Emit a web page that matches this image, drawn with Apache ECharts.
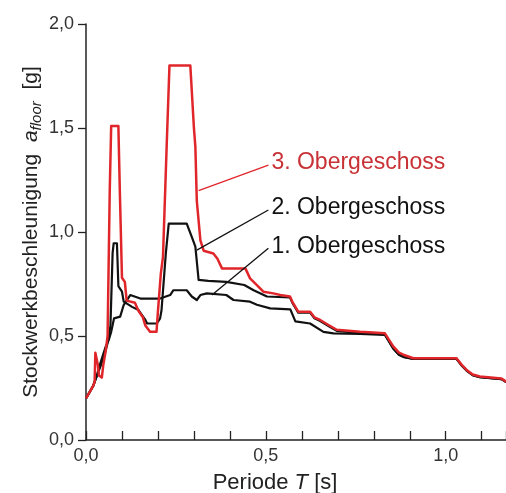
<!DOCTYPE html>
<html lang="de">
<head>
  <meta charset="utf-8">
</head>
<body style="height: 100%; margin: 0">
  <div id="container" style="width: 506px; height: 493px"></div>

  <script type="text/javascript" src="https://fastly.jsdelivr.net/npm/echarts@6.0.0/dist/echarts.min.js"></script>

  <script type="text/javascript">
    // Periode T [s], Stockwerkbeschleunigung [g]
    var og3 = [
      [0.000, 0.20], [0.010, 0.23], [0.020, 0.26], [0.024, 0.28], [0.026, 0.42], [0.030, 0.42],
      [0.033, 0.36], [0.036, 0.31], [0.044, 0.30], [0.048, 0.36], [0.055, 0.43], [0.060, 0.50],
      [0.066, 1.20], [0.070, 1.51], [0.090, 1.51], [0.094, 1.20], [0.100, 0.78], [0.108, 0.76],
      [0.113, 0.67], [0.136, 0.66], [0.146, 0.62], [0.158, 0.59], [0.165, 0.55], [0.178, 0.52],
      [0.196, 0.52], [0.200, 0.62], [0.208, 0.80], [0.214, 0.88], [0.224, 1.40], [0.232, 1.80],
      [0.290, 1.80], [0.300, 1.50], [0.304, 1.41], [0.308, 1.15], [0.318, 0.96], [0.327, 0.91],
      [0.354, 0.897], [0.365, 0.873], [0.378, 0.825], [0.443, 0.825], [0.456, 0.777], [0.475, 0.745],
      [0.493, 0.713], [0.521, 0.705], [0.540, 0.697], [0.567, 0.69], [0.575, 0.66], [0.590, 0.617],
      [0.623, 0.617], [0.635, 0.59], [0.651, 0.577], [0.674, 0.553], [0.697, 0.53], [0.762, 0.52],
      [0.831, 0.513], [0.854, 0.45], [0.870, 0.42], [0.882, 0.41], [0.910, 0.393], [1.030, 0.393],
      [1.045, 0.36], [1.058, 0.337], [1.075, 0.315], [1.095, 0.305], [1.155, 0.296], [1.168, 0.28]
    ];
    var og2 = [
      [0.000, 0.20], [0.020, 0.26], [0.035, 0.33], [0.050, 0.40], [0.062, 0.48], [0.068, 0.55],
      [0.074, 0.90], [0.077, 0.946], [0.086, 0.946], [0.090, 0.74], [0.100, 0.713], [0.105, 0.665],
      [0.128, 0.64], [0.146, 0.625], [0.165, 0.577], [0.170, 0.56], [0.197, 0.56], [0.206, 0.585],
      [0.210, 0.625], [0.222, 0.90], [0.230, 1.04], [0.280, 1.04], [0.294, 0.977], [0.304, 0.93],
      [0.313, 0.77], [0.340, 0.765], [0.390, 0.76], [0.440, 0.745], [0.466, 0.72], [0.503, 0.69],
      [0.567, 0.685], [0.575, 0.655], [0.590, 0.612], [0.623, 0.612], [0.635, 0.585], [0.651, 0.572],
      [0.674, 0.548], [0.697, 0.525], [0.762, 0.515], [0.831, 0.508], [0.854, 0.44], [0.870, 0.41],
      [0.882, 0.40], [0.910, 0.39], [1.030, 0.39], [1.045, 0.357], [1.058, 0.334], [1.075, 0.312],
      [1.095, 0.302], [1.155, 0.293], [1.168, 0.278]
    ];
    var og1 = [
      [0.000, 0.20], [0.020, 0.26], [0.030, 0.31], [0.040, 0.37], [0.055, 0.45], [0.063, 0.48],
      [0.070, 0.52], [0.078, 0.585], [0.095, 0.593], [0.105, 0.65], [0.123, 0.697], [0.128, 0.69],
      [0.151, 0.68], [0.206, 0.68], [0.234, 0.697], [0.243, 0.72], [0.280, 0.72], [0.294, 0.69],
      [0.308, 0.673], [0.318, 0.697], [0.336, 0.705], [0.390, 0.697], [0.410, 0.673], [0.456, 0.665],
      [0.475, 0.65], [0.512, 0.633], [0.568, 0.628], [0.582, 0.57], [0.623, 0.56], [0.660, 0.52],
      [0.688, 0.513], [0.762, 0.51], [0.831, 0.505], [0.854, 0.44], [0.870, 0.41], [0.882, 0.40],
      [0.910, 0.39], [1.030, 0.39], [1.045, 0.357], [1.058, 0.334], [1.075, 0.312], [1.095, 0.302],
      [1.155, 0.293], [1.168, 0.278]
    ];

    // Beschriftungen: Hinweislinie von -> bis (Datenkoordinaten)
    var names = ['1. Obergeschoss', '2. Obergeschoss', '3. Obergeschoss'];
    var leader1 = [[0.350, 0.697], [0.507, 0.922]];
    var leader2 = [[0.308, 0.913], [0.507, 1.106]];
    var leader3 = [[0.313, 1.199], [0.507, 1.322]];

    var xTicks = [0, 0.5, 1.0];

    var FONT = '"Liberation Sans", Arial, sans-serif';
    var RED = '#e0262a';
    var RED_TEXT = '#c83236';
    var BLACK = '#111111';

    var dom = document.getElementById('container');
    var myChart = echarts.init(dom, null, { renderer: 'canvas' });

    function fmt(v) {
      return v.toFixed(1).replace('.', ',');
    }

    function makeSeries(name, data, color, textColor, width, leader) {
      return {
        name: name,
        type: 'line',
        data: data,
        showSymbol: false,
        symbol: 'none',
        lineStyle: { color: color, width: width, join: 'round' },
        itemStyle: { color: color },
        markLine: {
          silent: true,
          symbol: ['none', 'none'],
          label: { show: false },
          lineStyle: { color: color, width: 1.3, type: 'solid' },
          data: [[{ coord: leader[0] }, { coord: leader[1] }]]
        },
        markPoint: {
          silent: true,
          symbol: 'circle',
          symbolSize: 0,
          label: {
            show: true,
            position: 'right',
            distance: 3,
            offset: [0, -2],
            formatter: name,
            color: textColor,
            fontFamily: FONT,
            fontSize: 23
          },
          data: [{ coord: leader[1] }]
        }
      };
    }

    var option = {
      animation: false,
      backgroundColor: '#ffffff',
      grid: { left: 86, right: 0, top: 24, bottom: 53, outerBoundsMode: 'none', containLabel: false },
      xAxis: {
        type: 'value',
        min: 0,
        max: 1.1675,
        interval: 0.1,
        name: '{n|Periode }{i|T}{n| [s]}',
        nameLocation: 'middle',
        nameGap: 32,
        nameMoveOverlap: false,
        nameTextStyle: {
          padding: [0, 42, 0, 0],
          rich: {
            n: { fontFamily: FONT, fontSize: 22, color: '#222' },
            i: { fontFamily: FONT, fontSize: 22, color: '#222', fontStyle: 'italic' }
          }
        },
        axisLine: { lineStyle: { color: '#222', width: 1.5 } },
        axisTick: { inside: true, length: 9, lineStyle: { color: '#222', width: 1.3 } },
        splitLine: { show: false },
        axisLabel: {
          margin: 7,
          fontFamily: FONT,
          fontSize: 18,
          color: '#333',
          formatter: function (v) {
            for (var i = 0; i < xTicks.length; i++) {
              if (Math.abs(v - xTicks[i]) < 1e-6) return fmt(v);
            }
            return '';
          }
        }
      },
      yAxis: {
        type: 'value',
        min: 0,
        max: 2,
        interval: 0.5,
        name: '{n|Stockwerkbeschleunigung  }{i|a}{s|floor}{n|  [g]}',
        nameLocation: 'middle',
        nameGap: 42,
        nameMoveOverlap: false,
        nameTextStyle: {
          rich: {
            n: { fontFamily: FONT, fontSize: 21, color: '#222', lineHeight: 25 },
            i: { fontFamily: FONT, fontSize: 21, color: '#222', fontStyle: 'italic', lineHeight: 25 },
            s: { fontFamily: FONT, fontSize: 15, color: '#222', fontStyle: 'italic', lineHeight: 15, verticalAlign: 'bottom' }
          }
        },
        axisLine: { show: true, lineStyle: { color: '#222', width: 1.5 } },
        axisTick: { show: true, inside: false, length: 8, lineStyle: { color: '#222', width: 1.3 } },
        splitLine: { show: false },
        axisLabel: {
          margin: 12,
          fontFamily: FONT,
          fontSize: 18,
          color: '#333',
          formatter: fmt
        }
      },
      series: [
        makeSeries(names[0], og1, BLACK, BLACK, 2.2, leader1),
        makeSeries(names[1], og2, BLACK, BLACK, 2.2, leader2),
        makeSeries(names[2], og3, RED, RED_TEXT, 2.5, leader3)
      ]
    };

    myChart.setOption(option);
    window.addEventListener('resize', myChart.resize);
  </script>
</body>
</html>
